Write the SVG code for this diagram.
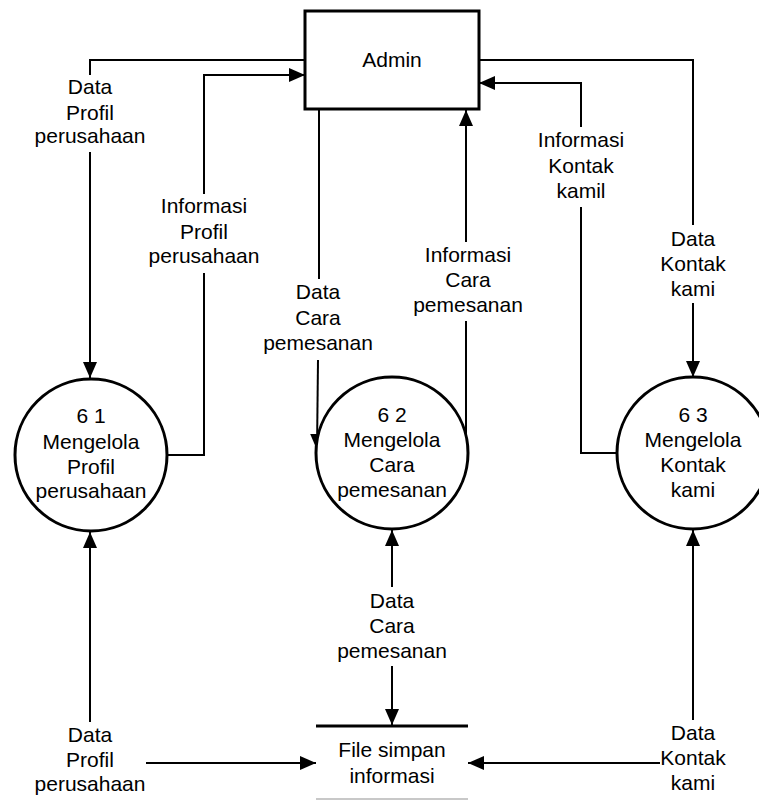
<svg xmlns="http://www.w3.org/2000/svg" width="759" height="800" viewBox="0 0 759 800">
<style>
text{font-family:"Liberation Sans",Arial,sans-serif;font-size:21px;fill:#000;text-anchor:middle}
.n{fill:#fff;stroke:#000;stroke-width:3}
.c{fill:none;stroke:#000;stroke-width:2}
.a{marker-end:url(#ah)}
</style>
<defs>
<marker id="ah" markerUnits="userSpaceOnUse" markerWidth="17" markerHeight="15" refX="16" refY="7" orient="auto"><path d="M0,0 L16,7 L0,14 z" fill="#000"/></marker>
</defs>
<rect width="759" height="800" fill="#fff"/>
<g id="connectors">
<path class="c" d="M305,60 H90 V75"/>
<path class="c a" d="M90,152 V378"/>
<path class="c" d="M167,455 H204 V273"/>
<path class="c a" d="M204,194 V75 H305"/>
<path class="c" d="M319,109 V279"/>
<path class="c a" d="M318,360 L317,450"/>
<path class="c" d="M466,455 V321"/>
<path class="c a" d="M466,242 V110"/>
<path class="c" d="M617,453 H581 V207"/>
<path class="c a" d="M581,127 V83 H479"/>
<path class="c" d="M479,60 H693 V225"/>
<path class="c a" d="M693,303 V377"/>
<path class="c a" d="M90,722 V532"/>
<path class="c a" d="M146,763 H316"/>
<path class="c a" d="M392,587 V530"/>
<path class="c a" d="M392,666 V725"/>
<path class="c a" d="M693,720 V530"/>
<path class="c a" d="M660,763 H468"/>
<text x="90" y="94">Data</text><text x="90" y="120">Profil</text><text x="90" y="143">perusahaan</text>
<text x="204" y="213">Informasi</text><text x="204" y="239">Profil</text><text x="204" y="263">perusahaan</text>
<text x="318" y="299">Data</text><text x="318" y="325">Cara</text><text x="318" y="350">pemesanan</text>
<text x="468" y="262">Informasi</text><text x="468" y="287">Cara</text><text x="468" y="312">pemesanan</text>
<text x="581" y="147">Informasi</text><text x="581" y="173">Kontak</text><text x="581" y="198">kamil</text>
<text x="693" y="246">Data</text><text x="693" y="271">Kontak</text><text x="693" y="296">kami</text>
<text x="392" y="608">Data</text><text x="392" y="633">Cara</text><text x="392" y="658">pemesanan</text>
<text x="90" y="742">Data</text><text x="90" y="767">Profil</text><text x="90" y="791">perusahaan</text>
<text x="693" y="740">Data</text><text x="693" y="765">Kontak</text><text x="693" y="790">kami</text>
</g>
<g id="admin">
<rect class="n" x="305" y="11" width="174" height="98"/>
<text x="392" y="67">Admin</text>
</g>
<g id="p61">
<circle class="n" cx="91" cy="455" r="76"/>
<text x="91" y="423">6 1</text><text x="91" y="449">Mengelola</text><text x="91" y="474">Profil</text><text x="91" y="498">perusahaan</text>
</g>
<g id="p62">
<circle class="n" cx="392" cy="453" r="76"/>
<text x="392" y="422">6 2</text><text x="392" y="447">Mengelola</text><text x="392" y="472">Cara</text><text x="392" y="497">pemesanan</text>
</g>
<g id="p63">
<circle class="n" cx="693" cy="453" r="76"/>
<text x="693" y="422">6 3</text><text x="693" y="447">Mengelola</text><text x="693" y="472">Kontak</text><text x="693" y="497">kami</text>
</g>
<g id="store">
<line x1="316" y1="726" x2="468" y2="726" stroke="#000" stroke-width="3"/>
<line x1="316" y1="799" x2="468" y2="799" stroke="#c8c8c8" stroke-width="2"/>
<text x="392" y="757">File simpan</text><text x="392" y="783">informasi</text>
</g>
</svg>
